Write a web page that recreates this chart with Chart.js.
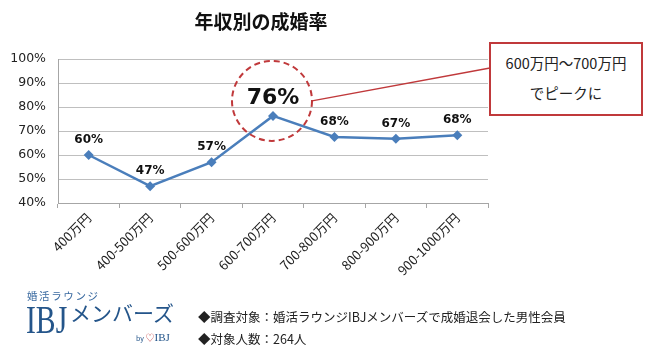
<!DOCTYPE html>
<html><head><meta charset="utf-8">
<script src="https://cdn.jsdelivr.net/npm/chart.js@4/dist/chart.umd.min.js"></script>
<style>
html,body{margin:0;padding:0;background:#fff;}
#wrap{position:relative;width:650px;height:355px;overflow:hidden;font-family:"Noto Sans CJK JP","Noto Sans",sans-serif;}
canvas{position:absolute;left:0;top:0;}
.t{position:absolute;white-space:nowrap;line-height:1;}
</style></head><body>
<div id="wrap">
<canvas id="c" width="650" height="355"></canvas>
<div class="t" style="left:0;width:522px;top:11px;text-align:center;font-size:19px;font-weight:bold;color:#111;">年収別の成婚率</div>
<div class="t" id="callout" style="left:489px;top:42px;width:150px;height:66px;border:2px solid #c0393b;background:#fff;font-size:14.5px;color:#222;text-align:center;line-height:30px;padding-top:4px;">600万円～700万円<br>でピークに</div>
<div class="t" style="left:27px;top:291px;font-size:10.5px;letter-spacing:1.6px;color:#3a6aa0;">婚活ラウンジ</div>
<div class="t" style="left:26px;top:300px;font-size:39px;color:#24558a;font-family:'Liberation Serif',serif;transform:scaleX(0.76);transform-origin:0 0;">IBJ</div>
<div class="t" style="left:70px;top:302px;font-size:21px;color:#24558a;">メンバーズ</div>
<div class="t" style="left:136px;top:332px;font-size:7px;color:#24558a;">by <span style="color:#c0393b;font-size:9px;">♡</span><span style="font-family:'Liberation Serif',serif;font-size:11px;">IBJ</span></div>
<div class="t" style="left:198px;top:311px;font-size:12.5px;color:#222;">◆調査対象：婚活ラウンジIBJメンバーズで成婚退会した男性会員</div>
<div class="t" style="left:198px;top:333px;font-size:12.5px;color:#222;">◆対象人数：264人</div>
</div>
<script>
const categories = ["400万円","400-500万円","500-600万円","600-700万円","700-800万円","800-900万円","900-1000万円"];
const marriageRate = [60, 47, 57, 76.3, 67.5, 66.8, 68.2];
const rateLabels = ["60%","47%","57%","76%","68%","67%","68%"];
const yTicks = [40, 50, 60, 70, 80, 90, 100];
const peakIndex = 3;

const annotate = {
  id: 'annotate',
  afterDatasetsDraw(chart) {
    const ctx = chart.ctx;
    const meta = chart.getDatasetMeta(0);
    ctx.save();
    ctx.fillStyle = '#111';
    ctx.textAlign = 'center';
    ctx.textBaseline = 'middle';
    meta.data.forEach((pt, i) => {
      if (i === peakIndex) return;
      ctx.font = 'bold 12px "DejaVu Sans", sans-serif';
      ctx.fillText(rateLabels[i], pt.x, pt.y - 15);
    });
    const p = meta.data[peakIndex];
    const cx = p.x - 1, cy = p.y - 15, r = 40;
    ctx.font = 'bold 22px "DejaVu Sans", sans-serif';
    ctx.fillText(rateLabels[peakIndex], p.x, p.y - 18);
    ctx.strokeStyle = '#c0393b';
    ctx.lineWidth = 2;
    ctx.setLineDash([6, 4]);
    ctx.beginPath();
    ctx.arc(cx, cy, r, 0, Math.PI * 2);
    ctx.stroke();
    ctx.setLineDash([]);
    ctx.lineWidth = 1.5;
    ctx.beginPath();
    ctx.moveTo(cx + r, cy);
    ctx.lineTo(490, 68);
    ctx.stroke();
    ctx.restore();
  }
};

new Chart(document.getElementById('c'), {
  type: 'line',
  data: {
    labels: categories,
    datasets: [{
      data: marriageRate,
      borderColor: '#4a7ebb',
      backgroundColor: '#4a7ebb',
      borderWidth: 2.5,
      pointStyle: 'rectRot',
      pointRadius: 5,
      pointBorderWidth: 0,
      tension: 0
    }]
  },
  options: {
    responsive: false,
    animation: false,
    devicePixelRatio: 1,
    layout: { padding: { left: 0, top: 59, right: 162, bottom: 0 } },
    plugins: { legend: { display: false }, tooltip: { enabled: false } },
    scales: {
      x: {
        offset: true,
        grid: { display: true, drawOnChartArea: false, drawTicks: true, tickLength: 5, color: '#a6a6a6', offset: true },
        border: { color: '#a6a6a6' },
        ticks: { color: '#222', font: { size: 13, family: '"Noto Sans CJK JP", sans-serif' }, minRotation: 45, maxRotation: 45, padding: 2 },
        afterFit(s) { s.height = 152; }
      },
      y: {
        min: 40, max: 100,
        afterBuildTicks(s) { s.ticks = yTicks.map(v => ({ value: v })); },
        grid: { color: '#bfbfbf', drawTicks: false },
        border: { color: '#a6a6a6' },
        ticks: { color: '#222', font: { size: 12.5, family: '"DejaVu Sans", sans-serif' }, padding: 12, callback: v => v + '%' },
        afterFit(s) { s.width = 58; }
      }
    }
  },
  plugins: [annotate]
});
</script>
</body></html>
